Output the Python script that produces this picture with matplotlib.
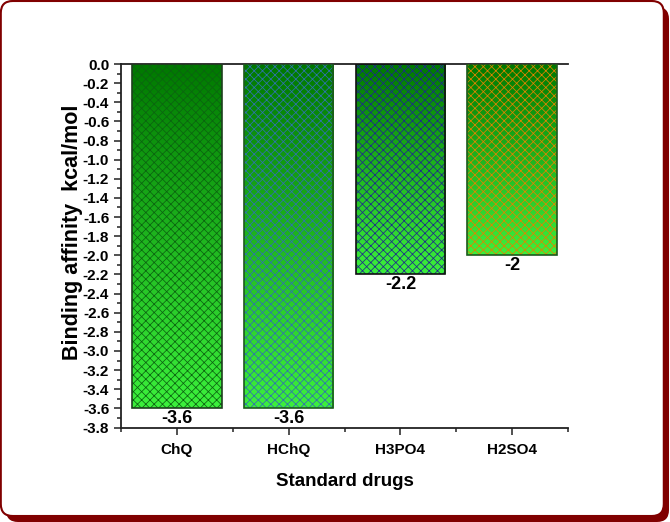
import numpy as np
import matplotlib
matplotlib.use('Agg')
import matplotlib.pyplot as plt
from matplotlib.patches import FancyBboxPatch
from matplotlib.colors import LinearSegmentedColormap

# donnees
drugs = ['ChQ', 'HChQ', 'H3PO4', 'H2SO4']
affinity = [-3.6, -3.6, -2.2, -2.0]
value_labels = ['-3.6', '-3.6', '-2.2', '-2']
hatch_colors = ['#0b6410', '#2f72b0', '#1c2a8c', '#e08400']
edge_colors = ['#1f3f1f', '#1d5a1d', '#111111', '#1d5a1d']

plt.rcParams['font.family'] = ['Liberation Sans', 'DejaVu Sans']
plt.rcParams['font.weight'] = 'bold'
plt.rcParams['hatch.linewidth'] = 0.55

fig = plt.figure(figsize=(6.7, 5.22), dpi=100)
fig.patch.set_facecolor('white')

# cadre arrondi avec ombre rouge fonce
shadow = FancyBboxPatch((0.06, 0.0), 6.63, 5.15,
                        boxstyle='round,pad=0,rounding_size=0.12',
                        transform=fig.dpi_scale_trans,
                        facecolor='#800000', edgecolor='none', zorder=0)
frame = FancyBboxPatch((0.008, 0.06), 6.63, 5.15,
                       boxstyle='round,pad=0,rounding_size=0.12',
                       transform=fig.dpi_scale_trans,
                       facecolor='white', edgecolor='#800000', lw=1.5, zorder=1)
fig.add_artist(shadow)
fig.add_artist(frame)

ax = fig.add_axes([121 / 670, 1 - 427.5 / 522, 447 / 670, 363.5 / 522])
ax.set_zorder(2)

x = np.arange(1, len(drugs) + 1)
cmap = LinearSegmentedColormap.from_list('vert', ['#007800', '#3cf03c'])
grad = np.linspace(0, 1, 256).reshape(-1, 1)

for xi, v, hc, ec in zip(x, affinity, hatch_colors, edge_colors):
    ax.imshow(grad, cmap=cmap, extent=(xi - 0.4, xi + 0.4, v, 0),
              origin='upper', aspect='auto', zorder=2)
    ax.bar(xi, v, width=0.8, facecolor='none', edgecolor=hc, hatch='xxxx',
           linewidth=0, zorder=3)
    ax.bar(xi, v, width=0.8, facecolor='none', edgecolor=ec, linewidth=1.2,
           zorder=4)

for xi, v, lab in zip(x, affinity, value_labels):
    ax.text(xi, v - 0.02, lab, ha='center', va='top', fontsize=13,
            fontweight='bold')

ax.set_xlim(0.5, 4.5)
ax.set_ylim(-3.8, 0)

yt = np.round(np.arange(0, -3.81, -0.2), 1)
ax.set_yticks(yt)
ax.set_yticklabels([f'{abs(t):.1f}' if t == 0 else f'{t:.1f}' for t in yt])
ax.set_yticks(np.round(np.arange(-0.1, -3.8, -0.2), 1), minor=True)
ax.set_xticks(x)
ax.set_xticklabels(drugs)
ax.set_xticks(np.arange(0.5, 4.6, 1), minor=True)

ax.tick_params(axis='both', which='major', direction='out', length=5,
               width=1.1, color='#222222')
ax.tick_params(axis='y', which='major', labelsize=11)
ax.tick_params(axis='x', which='major', labelsize=11, pad=6)
ax.tick_params(axis='both', which='minor', direction='out', length=3,
               width=1.1, color='#222222')

for s in ['left', 'bottom', 'top']:
    ax.spines[s].set_linewidth(1.3)
    ax.spines[s].set_color('#222222')
ax.spines['right'].set_visible(False)

ax.set_xlabel('Standard drugs', fontsize=13.5, fontweight='bold')
ax.set_ylabel('Binding affinity  kcal/mol', fontsize=15.5, fontweight='bold')
ax.xaxis.set_label_coords(0.5, -0.125)
ax.yaxis.set_label_coords(-0.085, 0.538)

plt.savefig('out.png', dpi=100)
